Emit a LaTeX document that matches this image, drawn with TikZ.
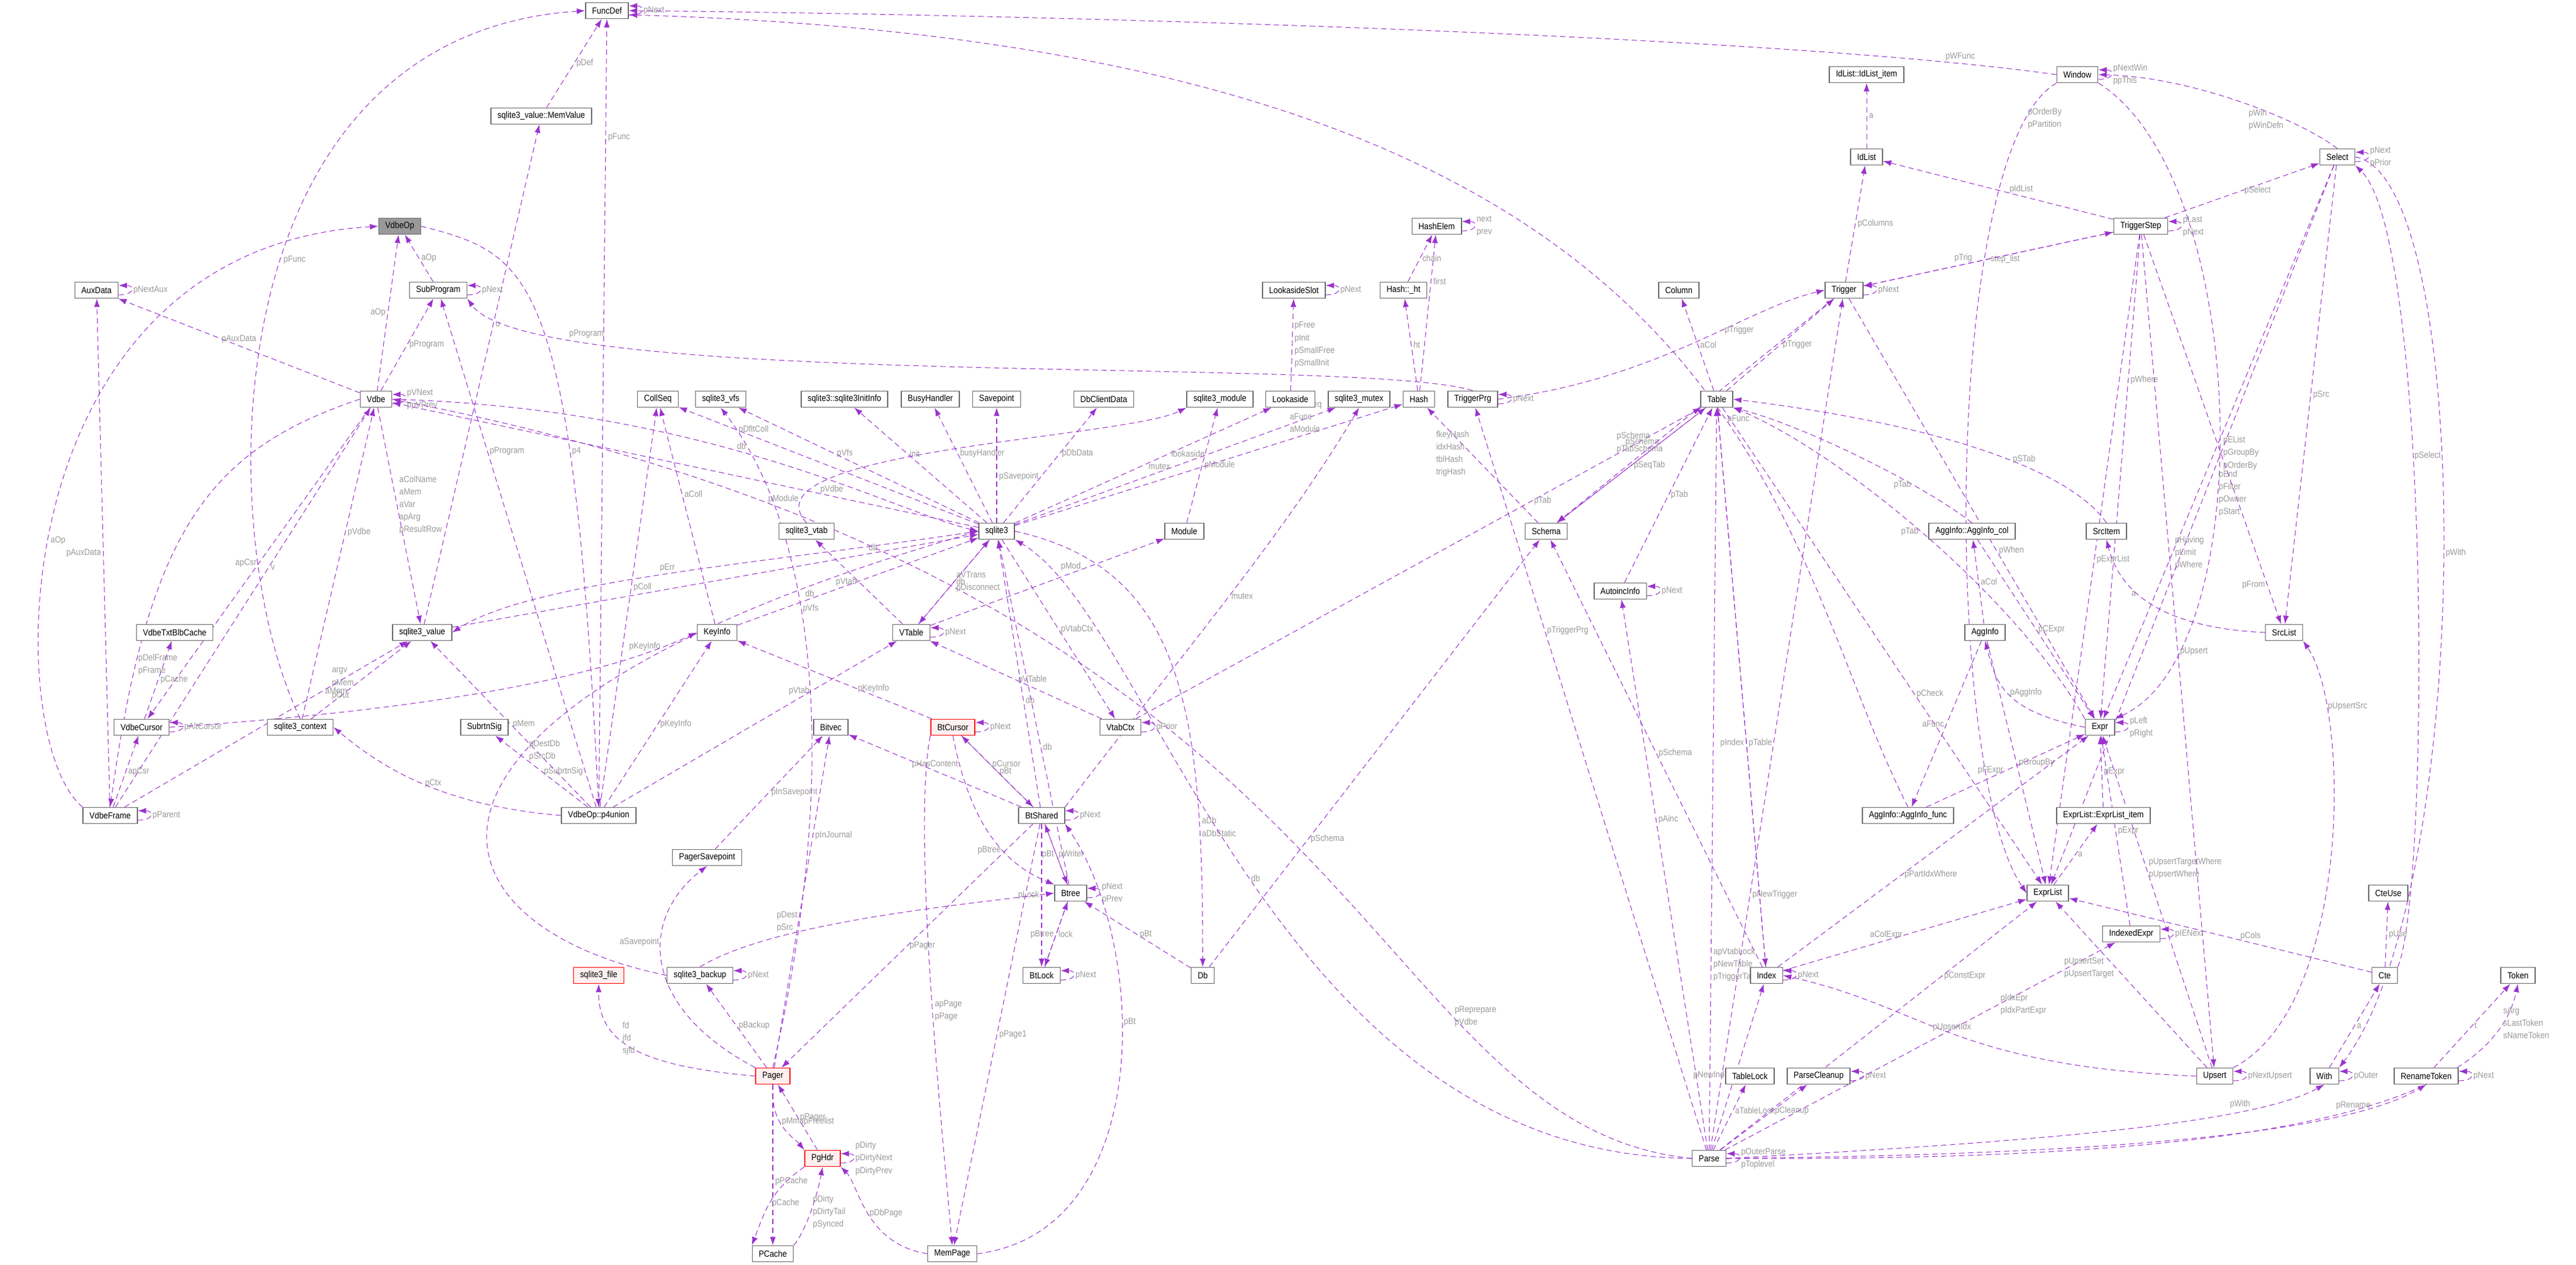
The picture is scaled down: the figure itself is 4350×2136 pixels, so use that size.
\documentclass[tikz,border=0pt]{standalone}
\usepackage{fontspec}
\setmainfont{Liberation Sans}[FakeStretch=0.88]
\usetikzlibrary{arrows.meta,calc}
\pgfdeclarelayer{bg}
\pgfsetlayers{bg,main}
\definecolor{edgec}{HTML}{9A32CD}
\definecolor{lblc}{HTML}{9A9A9A}
\definecolor{boxc}{HTML}{666666}
\newcommand\nfont{\fontsize{4.3}{6}\selectfont}
\begin{document}
\begin{tikzpicture}[x=0.01cm,y=-0.01cm,
 box/.style={draw=boxc,line width=0.45pt,fill=white,font=\nfont,minimum height=0.27cm,inner xsep=0.11cm,inner ysep=0pt},
 hl/.style={box,fill=black!40},
 redb/.style={box,draw=red,fill=red!6},
 e/.style={draw=edgec,line width=0.3pt,dash pattern=on 2.6pt off 1.7pt,-{Latex[length=4pt,width=2.8pt]}},
 lbl/.style={text=lblc,font=\nfont,inner sep=1pt,align=left,fill=none}]
\newcommand\selfl[2]{\draw[e] ($(#1.east)+(0,8)$) .. controls +(28,0) and +(28,0) .. node[lbl,right]{#2} ($(#1.east)+(0,-8)$);}
\useasboundingbox (0,0) rectangle (4350,2136);
% nodes
\node[box] (funcdef) at (1025,18) {FuncDef};
\node[box] (memvalue) at (914,196) {sqlite3\_value::MemValue};
\node[hl] (vdbeop) at (675,382) {VdbeOp};
\node[box] (subprogram) at (740,490) {SubProgram};
\node[box] (auxdata) at (163,490) {AuxData};
\node[box] (vdbe) at (635,674) {Vdbe};
\node[box] (collseq) at (1111,674) {CollSeq};
\node[box] (vfs) at (1217,674) {sqlite3\_vfs};
\node[box] (initinfo) at (1426,674) {sqlite3::sqlite3InitInfo};
\node[box] (busy) at (1571,674) {BusyHandler};
\node[box] (savepoint) at (1683,674) {Savepoint};
\node[box] (dbclient) at (1864,674) {DbClientData};
\node[box] (module3) at (2060,674) {sqlite3\_module};
\node[box] (lookaside) at (2179,674) {Lookaside};
\node[box] (mutex) at (2295,674) {sqlite3\_mutex};
\node[box] (hash) at (2396,674) {Hash};
\node[box] (triggerprg) at (2487,674) {TriggerPrg};
\node[box] (table) at (2899,674) {Table};
\node[box] (lslot) at (2185,490) {LookasideSlot};
\node[box] (ht) at (2370,490) {Hash::\_ht};
\node[box] (hashelem) at (2426,382) {HashElem};
\node[box] (column) at (2835,490) {Column};
\node[box] (trigger) at (3114,490) {Trigger};
\node[box] (idlist) at (3152,265) {IdList};
\node[box] (idlistitem) at (3152,126) {IdList::IdList\_item};
\node[box] (window) at (3508,126) {Window};
\node[box] (select) at (3947,265) {Select};
\node[box] (tstep) at (3615,382) {TriggerStep};
\node[box] (txtblb) at (295,1068) {VdbeTxtBlbCache};
\node[box] (value) at (713,1068) {sqlite3\_value};
\node[box] (vcursor) at (239,1228) {VdbeCursor};
\node[box] (context) at (507,1228) {sqlite3\_context};
\node[box] (subrtn) at (818,1228) {SubrtnSig};
\node[box] (vframe) at (186,1377) {VdbeFrame};
\node[box] (p4) at (1011,1377) {VdbeOp::p4union};
\node[box] (vtab3) at (1362,897) {sqlite3\_vtab};
\node[box] (sqlite3) at (1683,897) {sqlite3};
\node[box] (module) at (2000,897) {Module};
\node[box] (keyinfo) at (1211,1068) {KeyInfo};
\node[box] (vtable) at (1539,1068) {VTable};
\node[box] (bitvec) at (1403,1228) {Bitvec};
\node[redb] (btcursor) at (1609,1228) {BtCursor};
\node[box] (vtabctx) at (1892,1228) {VtabCtx};
\node[box] (btshared) at (1759,1377) {BtShared};
\node[box] (schema) at (2611,897) {Schema};
\node[box] (autoinc) at (2736,998) {AutoincInfo};
\node[box] (aggfunc) at (3222,1377) {AggInfo::AggInfo\_func};
\node[box] (aggcol) at (3330,897) {AggInfo::AggInfo\_col};
\node[box] (srcitem) at (3557,897) {SrcItem};
\node[box] (agginfo) at (3352,1068) {AggInfo};
\node[box] (srclist) at (3857,1068) {SrcList};
\node[box] (expr) at (3546,1228) {Expr};
\node[box] (elitem) at (3552,1377) {ExprList::ExprList\_item};
\node[redb] (file) at (1011,1647) {sqlite3\_file};
\node[box] (psave) at (1194,1448) {PagerSavepoint};
\node[box] (backup) at (1182,1647) {sqlite3\_backup};
\node[redb] (pager) at (1305,1817) {Pager};
\node[box] (btree) at (1808,1508) {Btree};
\node[box] (btlock) at (1759,1647) {BtLock};
\node[box] (db) at (2031,1647) {Db};
\node[redb] (pghdr) at (1389,1956) {PgHdr};
\node[box] (pcache) at (1305,2117) {PCache};
\node[box] (mempage) at (1608,2117) {MemPage};
\node[box] (index) at (2983,1647) {Index};
\node[box] (tablelock) at (2955,1817) {TableLock};
\node[box] (cleanup) at (3071,1817) {ParseCleanup};
\node[box] (parse) at (2886,1956) {Parse};
\node[box] (exprlist) at (3458,1508) {ExprList};
\node[box] (idxexpr) at (3599,1577) {IndexedExpr};
\node[box] (cteuse) at (4033,1508) {CteUse};
\node[box] (cte) at (4027,1647) {Cte};
\node[box] (token) at (4252,1647) {Token};
\node[box] (upsert) at (3740,1817) {Upsert};
\node[box] (with) at (3925,1817) {With};
\node[box] (rentoken) at (4097,1817) {RenameToken};
\begin{pgfonlayer}{bg}
\fill[white] (0,0) rectangle (4350,2136);
\draw[e] (vdbe) -- node[lbl,left]{aOp} (vdbeop);
\draw[e] (subprogram) -- node[lbl,right]{aOp} (vdbeop);
\draw[e] (vframe.north west) .. controls (0,1250) and (0,420) .. node[lbl,pos=0.45,right]{aOp} (vdbeop.west);
\draw[e] (vdbeop.east) .. controls (900,430) and (966,460) .. node[lbl,pos=0.7,right]{p4} (p4.north);
\draw[e] (p4) -- node[lbl,pos=0.85,right]{pFunc} (funcdef);
\draw[e] (memvalue) -- node[lbl,right]{pDef} (funcdef);
\draw[e] (context.north) .. controls (356,900) and (356,60) .. node[lbl,pos=0.55,right]{pFunc} (funcdef.west);
\selfl{funcdef}{pNext}
\draw[e] (window.west) .. controls (3000,60) and (1800,25) .. node[lbl,pos=0.1,above]{pWFunc} (funcdef.east);
\draw[e] (aggfunc.north) .. controls (2985,900) and (2985,80) .. node[lbl,pos=0.4,right]{pFunc} ([yshift=-2pt]funcdef.east);
\draw[e] (value) -- node[lbl,pos=0.6,right]{u} (memvalue);
\draw[e] (vdbe) -- node[lbl,right]{pProgram} (subprogram);
\draw[e] (p4) -- node[lbl,pos=0.7,right]{pProgram} (subprogram);
\draw[e] (triggerprg.north) .. controls (2300,600) and (900,660) .. node[lbl,pos=0.8,above]{pProgram} (subprogram.south east);
\selfl{subprogram}{pNext}
\draw[e] (vdbe) -- node[lbl,above]{pAuxData} (auxdata);
\draw[e] (vframe) -- node[lbl,left]{pAuxData} (auxdata);
\selfl{auxdata}{pNextAux}
\selfl{vdbe}{pVNext\\ppVPrev}
\draw[e] (sqlite3) -- node[lbl,pos=0.25,above]{pVdbe} (vdbe);
\draw[e] (vdbe.east) .. controls (1200,690) and (1500,860) .. node[lbl,pos=0.45,above]{db} (sqlite3.west);
\draw[e] (vdbe) -- node[lbl,pos=0.5,left]{apCsr} (vcursor);
\draw[e] (vframe) -- node[lbl,right]{apCsr} (vcursor);
\draw[e] (vframe) -- node[lbl,pos=0.6,right]{v} (vdbe);
\draw[e] (context) -- node[lbl,pos=0.6,right]{pVdbe} (vdbe);
\draw[e] (vdbe) -- node[lbl,pos=0.45,right]{aColName\\aMem\\aVar\\apArg\\pResultRow} (value);
\draw[e] (vdbe.west) .. controls (350,760) and (250,900) .. node[lbl,pos=0.8,right]{pDelFrame\\pFrame} (vframe.north);
\draw[e] (parse.west) .. controls (2300,1900) and (2330,1000) .. node[lbl,pos=0.3,right]{pReprepare\\pVdbe} (vdbe.east);
\draw[e] (vcursor) -- node[lbl,right]{pCache} (txtblb);
\selfl{vcursor}{pAltCursor}
\draw[e] (vcursor.east) .. controls (700,1200) and (1000,1150) .. node[lbl,pos=0.85,above]{pKeyInfo} (keyinfo.west);
\draw[e] (context) -- node[lbl,pos=0.45,left]{argv\\pMem\\pOut} (value);
\draw[e] (vframe) -- node[lbl,pos=0.7,right]{aMem} (value);
\draw[e] (p4) -- node[lbl,right]{pMem} (value);
\draw[e] (p4.west) .. controls (750,1360) and (650,1300) .. node[lbl,right]{pCtx} (context.east);
\draw[e] (p4) -- node[lbl,right]{pSubrtnSig} (subrtn);
\draw[e] (p4) -- node[lbl,right]{pKeyInfo} (keyinfo);
\draw[e] (p4) -- node[lbl,pos=0.55,right]{pColl} (collseq);
\draw[e] (p4) -- node[lbl,pos=0.7,left]{pVtab} (vtable);
\selfl{vframe}{pParent}
\draw[e] (backup.west) .. controls (700,1560) and (600,1200) .. node[lbl,pos=0.6,right]{pDestDb\\pSrcDb} (sqlite3.west);
\draw[e] (value) -- node[lbl,pos=0.8,above]{db} (sqlite3);
\draw[e] (keyinfo) -- node[lbl,pos=0.3,above]{db} (sqlite3);
\draw[e] (vtable) -- node[lbl,right]{db} (sqlite3);
\draw[e] (sqlite3) -- node[lbl,pos=0.75,above]{pDfltColl} (collseq);
\draw[e] (sqlite3) -- node[lbl,pos=0.6,right]{pVfs} (vfs);
\draw[e] (sqlite3) -- node[lbl,pos=0.6,right]{init} (initinfo);
\draw[e] (sqlite3) -- node[lbl,pos=0.6,right]{busyHandler} (busy);
\draw[e] (sqlite3) -- node[lbl,pos=0.4,right]{pSavepoint} (savepoint);
\draw[e] (sqlite3) -- node[lbl,pos=0.6,right]{pDbData} (dbclient);
\draw[e] (module) -- node[lbl,right]{pModule} (module3);
\draw[e] (vtab3.north) .. controls (1250,760) and (1900,740) .. node[lbl,pos=0.12,left]{pModule} (module3.south west);
\draw[e] (sqlite3) -- node[lbl,pos=0.6,right]{lookaside} (lookaside);
\draw[e] (sqlite3) -- node[lbl,pos=0.45,above]{mutex} (mutex);
\draw[e] (btshared.north east) .. controls (2000,1100) and (2170,900) .. node[lbl,pos=0.5,right]{mutex} (mutex.south);
\draw[e] (sqlite3) -- node[lbl,pos=0.75,above]{aCollSeq\\aFunc\\aModule} (hash);
\draw[e] (sqlite3) -- node[lbl,right]{aVTrans\\pDisconnect} (vtable);
\draw[e] (sqlite3) -- node[lbl,right]{pVtabCtx} (vtabctx);
\draw[e] (sqlite3.east) .. controls (2000,960) and (2031,1200) .. node[lbl,pos=0.8,right]{aDb\\aDbStatic} (db.north);
\draw[e] (sqlite3.west) .. controls (1300,950) and (900,980) .. node[lbl,pos=0.5,above]{pErr} (value.east);
\draw[e] (vtable) -- node[lbl,pos=0.6,above]{pMod} (module);
\draw[e] (vtable) -- node[lbl,left]{pVtab} (vtab3);
\selfl{vtable}{pNext}
\draw[e] (vtabctx) -- node[lbl,right]{pVTable} (vtable);
\draw[e] (vtabctx) -- node[lbl,pos=0.7,right]{pTab} (table);
\selfl{vtabctx}{pPrior}
\draw[e] (lookaside) -- node[lbl,right]{pFree\\pInit\\pSmallFree\\pSmallInit} (lslot);
\selfl{lslot}{pNext}
\draw[e] (hash) -- node[lbl,right]{ht} (ht);
\draw[e] (hash) -- node[lbl,pos=0.7,right]{first} (hashelem);
\draw[e] (ht) -- node[lbl,right]{chain} (hashelem);
\selfl{hashelem}{next\\prev}
\draw[e] (schema) -- node[lbl,pos=0.6,left]{fkeyHash\\idxHash\\tblHash\\trigHash} (hash);
\draw[e] (db) -- node[lbl,pos=0.3,right]{pSchema} (schema);
\draw[e] (btshared) -- node[lbl,pos=0.4,right]{db} (sqlite3);
\draw[e] (btree) -- node[lbl,pos=0.4,right]{db} (sqlite3);
\draw[e] (parse.west) .. controls (2150,1950) and (1950,1050) .. node[lbl,pos=0.5,right]{db} (sqlite3.south east);
\draw[e] (table) -- node[lbl,pos=0.3,left]{pSchema} (schema);
\draw[e] (trigger) -- node[lbl,pos=0.7,above]{pSchema\\pTabSchema} (schema);
\draw[e] (index) -- node[lbl,pos=0.5,right]{pSchema} (schema);
\draw[e] (schema) -- node[lbl,right]{pSeqTab} (table);
\draw[e] (autoinc) -- node[lbl,right]{pTab} (table);
\draw[e] (table) -- node[lbl,right]{aCol} (column);
\draw[e] (table) -- node[lbl,right]{pTrigger} (trigger);
\draw[e] (triggerprg.east) .. controls (2800,640) and (2950,520) .. node[lbl,pos=0.6,right]{pTrigger} (trigger.west);
\draw[e] (parse) -- node[lbl,pos=0.7,right]{pTriggerPrg} (triggerprg);
\selfl{triggerprg}{pNext}
\draw[e] (table) -- node[lbl,pos=0.6,left]{pIndex} (index);
\draw[e] (index) -- node[lbl,pos=0.4,right]{pTable} (table);
\draw[e] (table) -- node[lbl,pos=0.6,right]{pCheck} (exprlist);
\draw[e] (parse) -- node[lbl,pos=0.25,right]{apVtabLock\\pNewTable\\pTriggerTab} (table);
\draw[e] (parse) -- node[lbl,pos=0.3,right]{pNewTrigger} (trigger);
\draw[e] (parse) -- node[lbl,pos=0.6,right]{pAinc} (autoinc);
\draw[e] (parse) -- node[lbl,pos=0.45,left]{pNewIndex} (index);
\draw[e] (parse) -- node[lbl,pos=0.6,right]{aTableLock} (tablelock);
\draw[e] (parse) -- node[lbl,pos=0.6,right]{pCleanup} (cleanup);
\selfl{cleanup}{pNext}
\selfl{parse}{pOuterParse\\pToplevel}
\draw[e] (parse.east) .. controls (3400,1930) and (3800,1900) .. node[lbl,pos=0.75,above]{pWith} (with.south);
\draw[e] (parse.east) .. controls (3500,1950) and (3950,1920) .. node[lbl,pos=0.8,above]{pRename} (rentoken.south);
\draw[e] (parse.east) .. controls (3700,1960) and (4200,1900) .. node[lbl,pos=0.9,right]{sArg\\sLastToken\\sNameToken} (token.south);
\draw[e] (parse) -- node[lbl,pos=0.7,right]{pConstExpr} (exprlist);
\draw[e] (parse) -- node[lbl,pos=0.7,right]{pIdxEpr\\pIdxPartExpr} (idxexpr);
\selfl{autoinc}{pNext}
\draw[e] (trigger) -- node[lbl,right]{pColumns} (idlist);
\draw[e] (trigger) -- node[lbl,right]{step\_list} (tstep);
\selfl{trigger}{pNext}
\draw[e] (trigger) -- node[lbl,pos=0.6,right]{pWhen} (expr);
\draw[e] (tstep) -- node[lbl,pos=0.6,above]{pTrig} (trigger);
\draw[e] (tstep) -- node[lbl,pos=0.4,above]{pIdList} (idlist);
\draw[e] (tstep) -- node[lbl,right]{pSelect} (select);
\selfl{tstep}{pLast\\pNext}
\draw[e] (tstep) -- node[lbl,pos=0.3,right]{pWhere} (expr);
\draw[e] (tstep) -- node[lbl,pos=0.5,right]{pExprList} (exprlist);
\draw[e] (tstep) -- node[lbl,pos=0.9,left]{pFrom} (srclist);
\draw[e] (tstep) -- node[lbl,pos=0.5,right]{pUpsert} (upsert);
\draw[e] (idlist) -- node[lbl,right]{a} (idlistitem);
\selfl{window}{pNextWin\\ppThis}
\draw[e] (select.north) .. controls (3880,200) and (3700,130) .. node[lbl,pos=0.3,left]{pWin\\pWinDefn} (window.east);
\draw[e] (window.south east) .. controls (3800,300) and (3820,1100) .. node[lbl,pos=0.6,right]{pEnd\\pFilter\\pOwner\\pStart} (expr.north east);
\draw[e] (window.south west) .. controls (3280,250) and (3280,1300) .. node[lbl,pos=0.1,right]{pOrderBy\\pPartition} (exprlist.west);
\selfl{select}{pNext\\pPrior}
\draw[e] (select) -- node[lbl,pos=0.5,right]{pSrc} (srclist);
\draw[e] (select) -- node[lbl,pos=0.7,right]{pHaving\\pLimit\\pWhere} (expr);
\draw[e] (select) -- node[lbl,pos=0.4,right]{pEList\\pGroupBy\\pOrderBy} (exprlist);
\draw[e] (select.east) .. controls (4180,300) and (4180,1500) .. node[lbl,pos=0.5,right]{pWith} (with.north east);
\draw[e] (cte.north east) .. controls (4104,1500) and (4104,400) .. node[lbl,pos=0.6,right]{pSelect} (select.south east);
\draw[e] (srcitem.north) .. controls (3500,800) and (3300,720) .. node[lbl,pos=0.4,above]{pSTab} (table.east);
\draw[e] (srclist.west) .. controls (3650,1060) and (3580,1000) .. node[lbl,pos=0.6,left]{a} (srcitem.south);
\draw[e] (aggcol.north) .. controls (3250,820) and (3050,720) .. node[lbl,pos=0.3,left]{pTab} (table.south east);
\draw[e] (aggcol) -- node[lbl,pos=0.5,right]{pCExpr} (expr);
\draw[e] (agginfo) -- node[lbl,right]{aCol} (aggcol);
\draw[e] (agginfo) -- node[lbl,pos=0.5,left]{aFunc} (aggfunc);
\draw[e] (expr.west) .. controls (3380,1200) and (3370,1150) .. node[lbl,pos=0.5,right]{pAggInfo} (agginfo.south);
\draw[e] (agginfo) -- node[lbl,pos=0.5,right]{pGroupBy} (exprlist);
\draw[e] (aggfunc) -- node[lbl,pos=0.5,left]{pFExpr} (expr);
\selfl{expr}{pLeft\\pRight}
\draw[e] (expr.north west) .. controls (3400,1000) and (3100,760) .. node[lbl,pos=0.5,left]{pTab} (table.south east);
\draw[e] (elitem) -- node[lbl,right]{pExpr} (expr);
\draw[e] (exprlist) -- node[lbl,right]{a} (elitem);
\draw[e] (idxexpr) -- node[lbl,pos=0.5,right]{pExpr} (expr);
\selfl{idxexpr}{pIENext}
\draw[e] (index) -- node[lbl,pos=0.4,right]{pPartIdxWhere} (expr);
\draw[e] (index) -- node[lbl,pos=0.5,left]{aColExpr} (exprlist);
\selfl{index}{pNext}
\draw[e] (upsert) -- node[lbl,pos=0.6,left]{pUpsertSet\\pUpsertTarget} (exprlist);
\draw[e] (upsert) -- node[lbl,pos=0.6,right]{pUpsertTargetWhere\\pUpsertWhere} (expr);
\draw[e] (upsert.west) .. controls (3300,1800) and (3250,1700) .. node[lbl,pos=0.5,above]{pUpsertIdx} (index.east);
\draw[e] (upsert.north east) .. controls (3970,1700) and (3970,1200) .. node[lbl,pos=0.8,right]{pUpsertSrc} (srclist.south east);
\selfl{upsert}{pNextUpsert}
\draw[e] (cte) -- node[lbl,pos=0.4,above]{pCols} (exprlist);
\draw[e] (cte) -- node[lbl,right]{pUse} (cteuse);
\draw[e] (with) -- node[lbl,right]{a} (cte);
\selfl{with}{pOuter}
\draw[e] (rentoken) -- node[lbl,right]{t} (token);
\selfl{rentoken}{pNext}
\draw[e] (keyinfo) -- node[lbl,pos=0.6,right]{aColl} (collseq);
\draw[e] (btcursor) -- node[lbl,right]{pBt} (btshared);
\draw[e] (btshared) -- node[lbl,pos=0.6,right]{pCursor} (btcursor);
\selfl{btcursor}{pNext}
\draw[e] (btcursor) -- node[lbl,pos=0.3,above]{pKeyInfo} (keyinfo);
\draw[e] (btcursor.south) .. controls (1640,1400) and (1700,1460) .. node[lbl,pos=0.6,left]{pBtree} (btree.north west);
\draw[e] (btcursor.south west) .. controls (1540,1400) and (1590,1900) .. node[lbl,pos=0.55,right]{apPage\\pPage} (mempage.north);
\draw[e] (btshared) -- node[lbl,pos=0.5,above]{pHasContent} (bitvec);
\draw[e] (pager) -- node[lbl,pos=0.7,right]{pInJournal} (bitvec);
\draw[e] (psave) -- node[lbl,pos=0.5,right]{pInSavepoint} (bitvec);
\draw[e] (btshared) -- node[lbl,pos=0.5,right]{pPager} (pager);
\draw[e] (btshared) -- node[lbl,pos=0.5,right]{pPage1} (mempage);
\draw[e] (pager.north) .. controls (1420,1300) and (1380,900) .. node[lbl,pos=0.6,right]{pVfs} (vfs.south);
\selfl{btshared}{pNext}
\draw[e] (btshared) -- node[lbl,right]{pWriter} (btree);
\draw[e] (btree) -- node[lbl,left]{pBt} (btshared);
\draw[e] (btshared) -- node[lbl,left]{pLock} (btlock);
\draw[e] (btree) -- node[lbl,right]{lock} (btlock);
\draw[e] (btlock) -- node[lbl,left]{pBtree} (btree);
\selfl{btlock}{pNext}
\selfl{btree}{pNext\\pPrev}
\draw[e] (db) -- node[lbl,right]{pBt} (btree);
\draw[e] (mempage.east) .. controls (1950,2080) and (1940,1600) .. node[lbl,pos=0.6,right]{pBt} (btshared.south east);
\draw[e] (mempage.west) .. controls (1460,2100) and (1450,2000) .. node[lbl,pos=0.5,right]{pDbPage} (pghdr.south east);
\draw[e] (pghdr) -- node[lbl,right]{pPager} (pager);
\draw[e] (pager.south) .. controls (1300,1900) and (1340,1920) .. node[lbl,pos=0.4,right]{pMmapFreelist} (pghdr.north west);
\selfl{pghdr}{pDirty\\pDirtyNext\\pDirtyPrev}
\draw[e] (pager) -- node[lbl,pos=0.6,right]{pPCache} (pcache);
\draw[e] (pghdr.south west) .. controls (1300,2010) and (1290,2050) .. node[lbl,pos=0.5,right]{pCache} (pcache.north west);
\draw[e] (pcache.north east) .. controls (1360,2080) and (1380,2020) .. node[lbl,pos=0.5,right]{pDirty\\pDirtyTail\\pSynced} (pghdr.south);
\draw[e] (pager.west) .. controls (1080,1800) and (1010,1760) .. node[lbl,pos=0.6,right]{fd\\jfd\\sjfd} (file.south);
\draw[e] (pager) -- node[lbl,right]{pBackup} (backup);
\draw[e] (backup.north) .. controls (1300,1560) and (1600,1530) .. node[lbl,pos=0.3,above]{pDest\\pSrc} (btree.west);
\selfl{backup}{pNext}
\draw[e] (pager.north west) .. controls (1080,1700) and (1080,1550) .. node[lbl,pos=0.6,left]{aSavepoint} (psave.south);
\end{pgfonlayer}
\end{tikzpicture}
\end{document}
